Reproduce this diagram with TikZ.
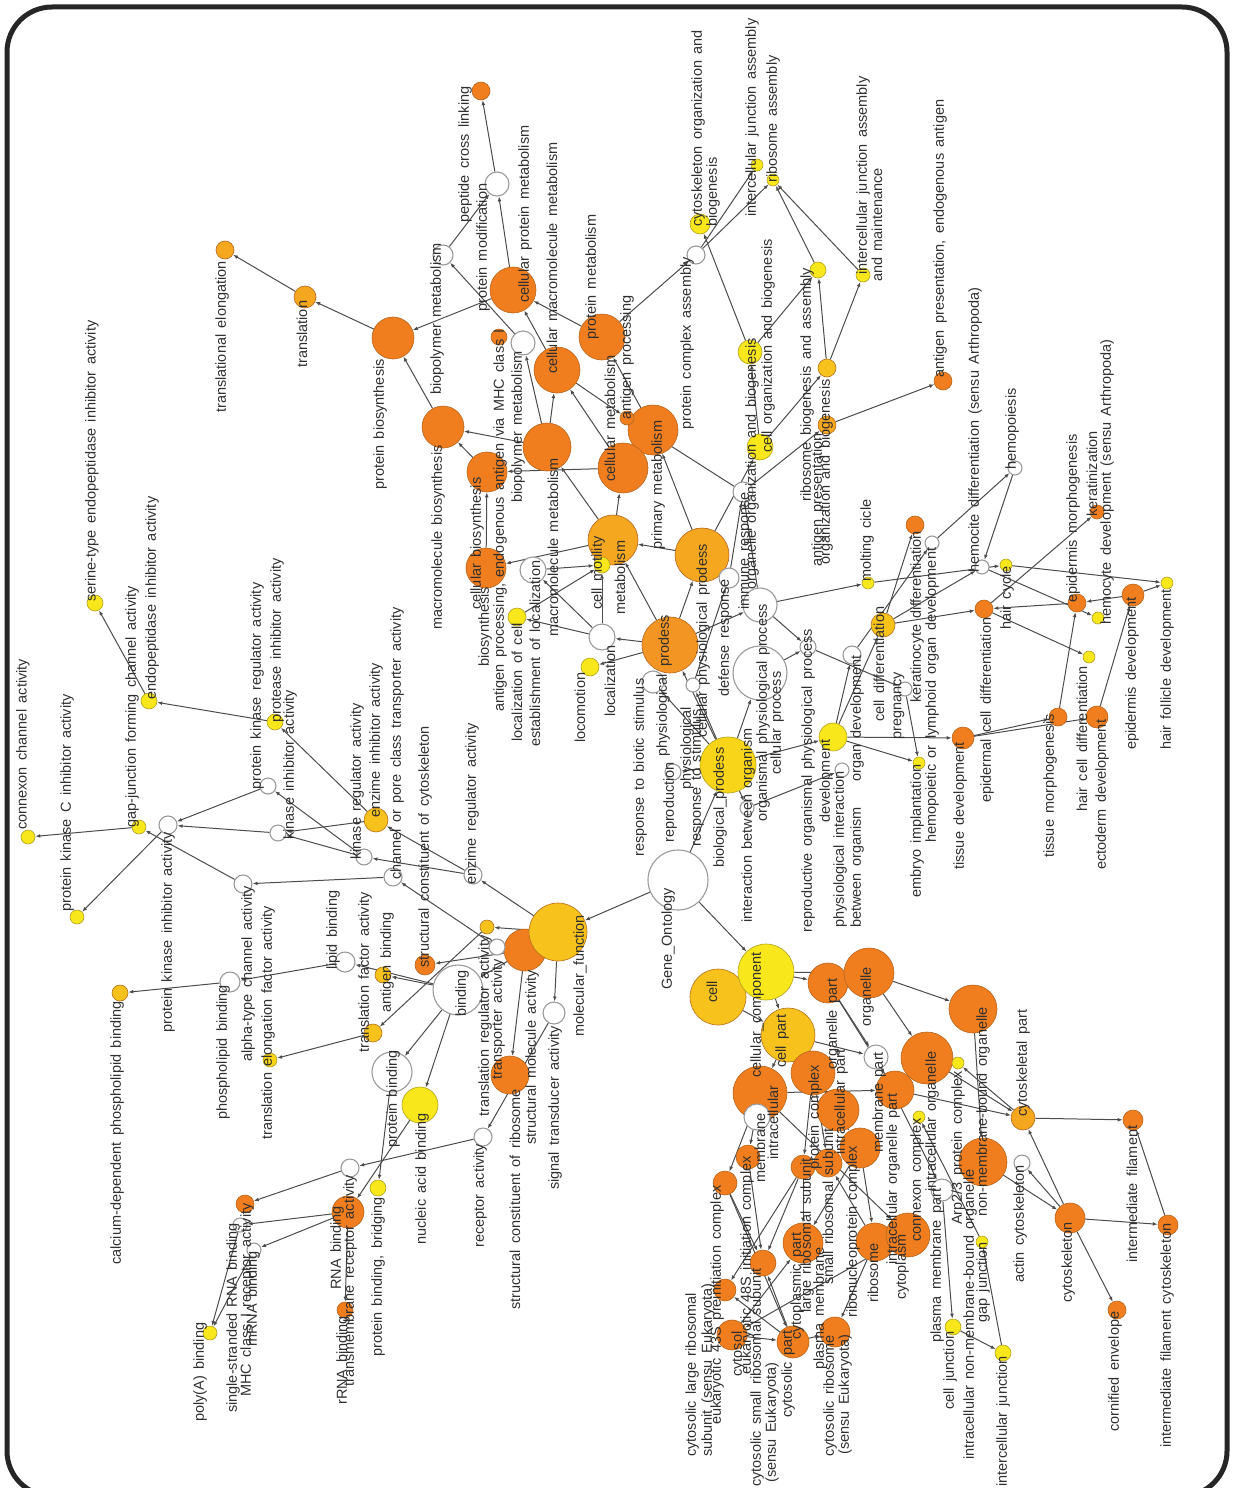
\documentclass[tikz,border=0pt]{standalone}
\usepackage{fontspec}
\setmainfont[WordSpace=1.6]{Liberation Sans}
\usetikzlibrary{arrows.meta}
\pgfdeclarelayer{bg}
\pgfsetlayers{bg,main}
\definecolor{cOR}{HTML}{F07E1E}\definecolor{cORd}{HTML}{B5651D}
\definecolor{cAM}{HTML}{F29522}\definecolor{cAM2}{HTML}{F5A71F}
\definecolor{cGD}{HTML}{F6C21B}\definecolor{cGY}{HTML}{F8D518}
\definecolor{cYL}{HTML}{F8E71B}\definecolor{cYLd}{HTML}{B0A020}
\definecolor{cWHd}{HTML}{9A9A9A}\definecolor{cED}{HTML}{4C4C4C}
\definecolor{cTX}{HTML}{303030}
\newcommand\lbfont{\fontsize{14.5}{16}\selectfont}
\tikzset{
  nd/.style={circle,inner sep=0pt,line width=0.6pt},
  OR/.style={fill=cOR,draw=cORd},
  AM/.style={fill=cAM,draw=cORd},
  AM2/.style={fill=cAM2,draw=cORd},
  GD/.style={fill=cGD,draw=cORd!80!cYLd},
  GY/.style={fill=cGY,draw=cYLd},
  YL/.style={fill=cYL,draw=cYLd},
  WH/.style={fill=white,draw=cWHd,line width=1.1pt},
  lb/.style={rotate=90,anchor=west,inner sep=0pt,text=cTX,font=\lbfont},
  ed/.style={draw=cED,line width=1pt,-{Latex[length=5pt,width=3.8pt]}},
}
\newcommand\ND[4]{\node[nd,#4,minimum size=#3pt] (#1) at (#2) {};}
\newcommand\LB[3]{\node[lb] (#1) at (#2) {#3};}
\newcommand\ED[2]{\begin{pgfonlayer}{bg}\draw[ed] (#1) -- (#2);\end{pgfonlayer}}
\begin{document}
\begin{tikzpicture}[x=1pt,y=-1pt]
\useasboundingbox (0,0) rectangle (1237,1488);
\draw[line width=5pt,rounded corners=45pt,color=black!85] (7,7) rectangle (1227,1496);
% ---------- nodes: top ----------
\ND{te}{225,250}{18}{AM2}
\ND{tl}{305,297}{22}{AM2}
\ND{pb}{393,338}{42}{OR}
\ND{pcl}{481,91}{18}{OR}
\ND{pm}{497,184}{24}{WH}
\ND{bpw}{443,255}{20}{WH}
\ND{cpm}{513,290}{46}{OR}
\ND{amhc}{499,337}{16}{OR}
\ND{wbm}{523,343}{24}{WH}
\ND{cmm}{557,370}{46}{OR}
\ND{prm}{602,337}{46}{OR}
\ND{pca}{696,255}{18}{WH}
\ND{cob}{700,224}{20}{YL}
\ND{ija}{757,165}{12}{YL}
\ND{ra}{773,180}{12}{YL}
\ND{obg}{750,352}{24}{YL}
\ND{rba}{818,270}{16}{YL}
\ND{ijam}{863,275}{14}{YL}
\ND{bgn}{827,368}{18}{GD}
\ND{apn}{827,425}{18}{AM2}
\ND{apea}{943,381}{18}{OR}
% ---------- nodes: middle ----------
\ND{mb}{443,427}{42}{OR}
\ND{ant}{487,472}{40}{OR}
\ND{cb}{486,568}{40}{OR}
\ND{bpm}{547,447}{48}{OR}
\ND{prim}{653,430}{50}{OR}
\ND{antsm}{627,418}{14}{OR}
\ND{cm}{623,468}{50}{OR}
\ND{met}{613,540}{50}{AM2}
\ND{cmot}{602,565}{16}{YL}
\ND{estw}{533,570}{26}{WH}
\ND{loc}{517,617}{18}{YL}
\ND{wcm}{602,637}{26}{WH}
\ND{locom}{590,667}{18}{YL}
\ND{pp}{702,555}{54}{AM2}
\ND{prod}{670,645}{56}{AM}
\ND{defw}{729,578}{20}{WH}
\ND{immw}{743,492}{20}{WH}
\ND{corg}{760,447}{26}{YL}
\ND{wphy}{760,605}{34}{WH}
\ND{wbig}{760,673}{54}{WH}
\ND{wrop}{808,647}{16}{WH}
\ND{rbiw}{653,682}{22}{WH}
\ND{cppw}{693,685}{14}{WH}
\ND{bp}{728,765}{56}{GY}
\ND{repw}{673,772}{16}{WH}
\ND{ibw}{747,808}{14}{WH}
\ND{GO}{678,880}{60}{WH}
% ---------- nodes: right middle ----------
\ND{molt}{868,583}{12}{YL}
\ND{kerd}{915,525}{18}{OR}
\ND{hemlw}{932,543}{14}{WH}
\ND{hemp}{1015,468}{14}{WH}
\ND{hemcd}{982,567}{14}{WH}
\ND{hairc}{1006,565}{12}{YL}
\ND{celld}{883,625}{24}{GD}
\ND{orgd}{852,655}{18}{WH}
\ND{preg}{905,689}{14}{WH}
\ND{dev}{833,737}{28}{YL}
\ND{piw}{842,770}{14}{WH}
\ND{impl}{919,763}{12}{YL}
\ND{epcd}{984,609}{18}{OR}
\ND{tisd}{963,738}{22}{OR}
\ND{epm}{1077,603}{18}{OR}
\ND{hemdev}{1098,618}{12}{YL}
\ND{kerat}{1097,512}{14}{OR}
\ND{epd}{1133,595}{22}{OR}
\ND{hfd}{1167,583}{12}{YL}
\ND{haircd}{1089,657}{12}{YL}
\ND{tism}{1058,717}{18}{OR}
\ND{ectd}{1097,717}{22}{OR}
% ---------- nodes: left ----------
\ND{ser}{95,603}{16}{YL}
\ND{endo}{149,701}{16}{YL}
\ND{prot}{275,722}{16}{YL}
\ND{conn}{28,837}{14}{YL}
\ND{gapj}{139,827}{14}{YL}
\ND{pkc}{77,917}{14}{YL}
\ND{pki}{168,825}{18}{WH}
\ND{pkr}{268,786}{16}{WH}
\ND{kin}{278,833}{16}{WH}
\ND{enzi}{376,820}{24}{GD}
\ND{kreg}{364,857}{16}{WH}
\ND{chan}{393,877}{18}{WH}
\ND{alpha}{243,884}{18}{WH}
\ND{lipid}{345,962}{20}{WH}
\ND{phos}{230,982}{20}{WH}
\ND{calc}{120,993}{16}{GD}
\ND{tef}{270,1060}{14}{GY}
\ND{tfa}{373,1033}{18}{GD}
\ND{antb}{383,975}{16}{GD}
\ND{pbind}{392,1072}{40}{WH}
\ND{scc}{425,965}{20}{OR}
\ND{nab}{420,1105}{36}{YL}
\ND{sma}{525,950}{42}{OR}
\ND{trw}{497,947}{16}{WH}
\ND{trr}{487,927}{14}{GD}
\ND{mf}{558,932}{58}{GD}
\ND{bind}{458,990}{50}{WH}
\ND{sig}{554,1013}{22}{WH}
\ND{scr}{510,1075}{38}{OR}
\ND{enzr}{473,875}{18}{WH}
\ND{rec}{483,1137}{18}{WH}
\ND{tmr}{350,1168}{18}{WH}
\ND{rna}{348,1212}{32}{OR}
\ND{pbb}{378,1188}{16}{YL}
\ND{mhc}{245,1204}{18}{OR}
\ND{ss}{240,1225}{14}{WH}
\ND{mrna}{254,1250}{14}{WH}
\ND{polya}{210,1333}{14}{YL}
\ND{rrna}{345,1310}{16}{OR}
% ---------- nodes: cellular component ----------
\ND{cell}{718,997}{56}{GD}
\ND{cc}{766,972}{56}{YL}
\ND{intra}{760,1093}{54}{OR}
\ND{memw}{757,1117}{26}{WH}
\ND{cpart}{788,1035}{54}{GD}
\ND{orgp}{828,983}{40}{OR}
\ND{org}{869,973}{50}{OR}
\ND{mbo}{973,1009}{48}{OR}
\ND{pc}{813,1073}{44}{OR}
\ND{ip}{838,1110}{42}{OR}
\ND{mpw}{876,1057}{24}{WH}
\ND{iop}{895,1090}{38}{OR}
\ND{io}{927,1058}{52}{OR}
\ND{arp}{958,1063}{12}{YL}
\ND{conc}{919,1117}{12}{YL}
\ND{cskp}{1023,1118}{24}{AM2}
\ND{rnp}{860,1148}{40}{OR}
\ND{ssu}{828,1163}{28}{OR}
\ND{o803}{803,1167}{24}{OR}
\ND{i48}{748,1157}{24}{OR}
\ND{p43}{725,1183}{24}{OR}
\ND{ribp}{803,1243}{40}{OR}
\ND{lsu}{763,1263}{26}{OR}
\ND{o725}{725,1290}{22}{OR}
\ND{cytosol}{732,1335}{30}{OR}
\ND{cytp}{793,1342}{32}{OR}
\ND{cribo}{835,1332}{30}{OR}
\ND{ribo}{875,1242}{38}{OR}
\ND{cyto}{908,1235}{44}{OR}
\ND{pmpw}{942,1190}{22}{WH}
\ND{nmbo}{983,1162}{48}{OR}
\ND{actw}{1022,1163}{16}{WH}
\ND{csk}{1070,1218}{30}{OR}
\ND{gapjn}{982,1242}{12}{YL}
\ND{celj}{953,1327}{16}{YL}
\ND{icj}{1003,1353}{16}{YL}
\ND{corn}{1117,1310}{18}{OR}
\ND{intf}{1133,1120}{20}{OR}
\ND{ifc}{1168,1225}{20}{OR}
% ---------- edges ----------
\ED{pb}{tl}\ED{tl}{te}\ED{mb}{pb}\ED{cpm}{pb}\ED{cpm}{pm}\ED{bpw}{pm}\ED{pm}{pcl}
\ED{wbm}{bpw}\ED{bpm}{wbm}\ED{bpm}{mb}\ED{ant}{mb}\ED{cb}{ant}\ED{cm}{ant}
\ED{bpm}{cmm}\ED{cm}{cmm}\ED{cmm}{cpm}\ED{prm}{cpm}\ED{prim}{prm}\ED{prm}{pca}
\ED{pca}{ija}\ED{pca}{ra}\ED{obg}{cob}\ED{obg}{rba}\ED{rba}{ra}\ED{bgn}{rba}
\ED{bgn}{ijam}\ED{ijam}{ra}\ED{corg}{bgn}\ED{corg}{obg}\ED{apn}{apea}\ED{immw}{apn}
\ED{immw}{antsm}\ED{cmm}{antsm}
\ED{met}{cb}\ED{met}{bpm}\ED{met}{cm}\ED{prod}{met}\ED{pp}{met}\ED{pp}{prim}\ED{pp}{corg}
\ED{prod}{pp}\ED{prod}{wcm}\ED{prod}{locom}\ED{prod}{wphy}\ED{wcm}{loc}\ED{wcm}{estw}
\ED{wcm}{cmot}\ED{estw}{cmot}\ED{loc}{cmot}
\ED{wphy}{immw}\ED{defw}{immw}\ED{cppw}{defw}\ED{wphy}{molt}\ED{wphy}{wrop}\ED{wbig}{wrop}
\ED{bp}{prod}\ED{bp}{wbig}\ED{bp}{repw}\ED{bp}{ibw}\ED{bp}{dev}\ED{bp}{cppw}\ED{bp}{rbiw}
\ED{ibw}{piw}\ED{wrop}{preg}\ED{preg}{impl}\ED{dev}{impl}\ED{dev}{celld}\ED{dev}{orgd}
\ED{dev}{tisd}\ED{orgd}{hemlw}\ED{celld}{kerd}\ED{celld}{epcd}\ED{celld}{hemcd}
\ED{hemlw}{hemp}\ED{hemp}{hemcd}\ED{molt}{hairc}\ED{hemcd}{hemdev}\ED{hairc}{hfd}
\ED{epd}{hfd}\ED{epd}{epm}\ED{epm}{epcd}\ED{epcd}{kerat}\ED{epcd}{haircd}
\ED{tisd}{tism}\ED{tisd}{ectd}\ED{tism}{epm}\ED{ectd}{epd}
\ED{GO}{bp}\ED{GO}{mf}\ED{GO}{cc}
\ED{mf}{enzr}\ED{mf}{trr}\ED{mf}{sig}\ED{mf}{bind}\ED{mf}{trw}\ED{sma}{scc}\ED{sma}{scr}
\ED{trw}{chan}\ED{enzr}{enzi}\ED{enzr}{kreg}\ED{enzi}{kin}\ED{enzi}{prot}\ED{kreg}{kin}
\ED{kreg}{pkr}\ED{pkr}{pki}\ED{kin}{pki}\ED{pki}{pkc}\ED{alpha}{gapj}\ED{gapj}{conn}
\ED{chan}{alpha}\ED{prot}{endo}\ED{endo}{ser}\ED{bind}{lipid}\ED{lipid}{phos}\ED{phos}{calc}
\ED{bind}{antb}\ED{trr}{tfa}\ED{tfa}{tef}\ED{bind}{pbind}\ED{bind}{nab}\ED{pbind}{pbb}
\ED{nab}{rna}\ED{sig}{rec}\ED{rec}{tmr}\ED{tmr}{mhc}\ED{rna}{ss}\ED{rna}{mrna}\ED{rna}{rrna}
\ED{ss}{polya}\ED{mrna}{polya}
\ED{cc}{cpart}\ED{cell}{cpart}\ED{cc}{orgp}\ED{cc}{org}\ED{org}{mbo}\ED{org}{io}
\ED{orgp}{mpw}\ED{cpart}{mpw}\ED{cpart}{intra}\ED{cpart}{pc}\ED{cpart}{ip}\ED{orgp}{iop}
\ED{intra}{iop}\ED{io}{iop}\ED{io}{cskp}\ED{iop}{cskp}\ED{cskp}{arp}\ED{mbo}{nmbo}
\ED{nmbo}{csk}\ED{csk}{cskp}\ED{csk}{actw}\ED{csk}{ifc}\ED{csk}{corn}\ED{cskp}{intf}
\ED{ifc}{intf}\ED{mpw}{pmpw}\ED{pmpw}{celj}\ED{celj}{icj}\ED{icj}{gapjn}\ED{gapjn}{conc}
\ED{intra}{cyto}\ED{pc}{rnp}\ED{rnp}{ribo}\ED{ribo}{cribo}\ED{pc}{ssu}\ED{pc}{o803}
\ED{intra}{i48}\ED{intra}{p43}\ED{o803}{ribp}\ED{o803}{lsu}\ED{o803}{o725}\ED{p43}{lsu}
\ED{p43}{cytp}\ED{cytp}{lsu}\ED{cytosol}{cytp}\ED{cytp}{o725}\ED{cytosol}{ribp}
\ED{cytp}{cribo}\ED{rnp}{ribp}\ED{ribo}{ssu}\ED{i48}{lsu}\ED{cyto}{cytosol}
% ---------- labels ----------
\LB{t1}{222,413}{translational elongation}
\LB{t2}{302,368}{translation}
\LB{t3}{380,490}{protein biosynthesis}
\LB{t4}{465,223}{peptide cross linking}
\LB{t5}{483,312}{protein modification}
\LB{t6}{437,395}{biopolymer metabolism}
\LB{t7}{525,303}{cellular protein metabolism}
\LB{t8}{552,374}{cellular macromolecule metabolism}
\LB{t9}{592,340}{protein metabolism}
\LB{t10}{500,712}{antigen processing, endogenous antigen via MHC class I}
\LB{t11}{518,503}{biopolymer metabolism}
\LB{t12}{610,482}{cellular metabolism}
\LB{t13}{658,550}{primary metabolism}
\LB{t14}{627,420}{antigen processing}
\LB{t15}{687,430}{protein complex assembly}
\LB{t16}{698,227}{cytoskeleton organization and}
\LB{t17}{713,227}{biogenesis}
\LB{t18}{752,217}{intercellular junction assembly}
\LB{t19}{773,183}{ribosome assembly}
\LB{t20}{863,275}{intercellular junction assembly}
\LB{t21}{877,282}{and maintenance}
\LB{t22}{768,453}{cell organization and biogenesis}
\LB{t23}{752,590}{organelle organization and biogenesis}
\LB{t24}{807,502}{ribosome biogenesis and assembly}
\LB{t25}{818,567}{antigen presentation}
\LB{t26}{826,565}{organization and biogenesis}
\LB{t27}{940,378}{antigen presentation, endogenous antigen}
\LB{t28}{438,630}{macromolecule biosynthesis}
\LB{t29}{477,610}{cellular biosynthesis}
\LB{t30}{485,667}{biosynthesis}
\LB{t31}{553,637}{macromolecule metabolism}
\LB{t32}{517,742}{localization of cell}
\LB{t33}{535,747}{establishment of localization}
\LB{t34}{598,610}{cell motility}
\LB{t35}{620,615}{metabolism}
\LB{t36}{610,717}{localization}
\LB{t37}{580,743}{locomotion}
\LB{t38}{665,667}{prodess}
\LB{t39}{703,738}{cellular physiological prodess}
\LB{t40}{725,697}{defense response}
\LB{t41}{745,610}{immune response}
\LB{t42}{640,857}{response to biotic stimulus}
\LB{t43}{663,757}{physiological}
\LB{t44}{687,790}{physiological}
\LB{t45}{697,847}{response to stimulus}
\LB{t46}{670,843}{reproduction}
\LB{t47}{720,868}{biological\_prodess}
\LB{t48}{748,923}{interaction between organism}
\LB{t49}{763,822}{organismal physiological process}
\LB{t50}{777,775}{cellular process}
\LB{t51}{808,933}{reproductive organismal physiological process}
\LB{t52}{826,823}{development}
\LB{t53}{840,928}{physiological interaction}
\LB{t54}{857,928}{between organism}
\LB{t55}{857,782}{organ development}
\LB{t56}{867,582}{molting cicle}
\LB{t57}{917,703}{keratinocyte differentiation}
\LB{t58}{932,843}{hemopoietic or lymphoid organ development}
\LB{t59}{917,898}{embryo implantation}
\LB{t60}{899,740}{pregnancy}
\LB{t61}{879,722}{cell differentiation}
\LB{t62}{1012,470}{hemopoiesis}
\LB{t63}{975,573}{hemocite differentiation (sensu Arthropoda)}
\LB{t64}{1007,630}{hair cycle}
\LB{t65}{960,870}{tissue development}
\LB{t66}{987,803}{epidermal cell differentiation}
\LB{t67}{1073,603}{epidermis morphogenesis}
\LB{t68}{1092,517}{keratinization}
\LB{t69}{1107,625}{hemocyte development (sensu Arthropoda)}
\LB{t70}{1132,750}{epidermis development}
\LB{t71}{1167,750}{hair follicle development}
\LB{t72}{1050,858}{tissue morphogenesis}
\LB{t73}{1082,812}{hair cell differentiation}
\LB{t74}{1102,870}{ectoderm development}
\LB{t75}{92,602}{serine-type endopeptidase inhibitor activity}
\LB{t76}{152,700}{endopeptidase inhibitor activity}
\LB{t77}{132,828}{gap-junction forming channel activity}
\LB{t78}{257,790}{protein kinase regulator activity}
\LB{t79}{277,723}{protease inhibitor activity}
\LB{t80}{290,840}{kinase inhibitor activity}
\LB{t81}{23,830}{connexon channel activity}
\LB{t82}{67,912}{protein kinase C inhibitor activity}
\LB{t83}{168,1033}{protein kinase inhibitor activity}
\LB{t84}{357,860}{kinase regulator activity}
\LB{t85}{376,818}{enzime inhibitor activity}
\LB{t86}{397,880}{channel or pore class transporter activity}
\LB{t87}{425,968}{structural constituent of cytoskeleton}
\LB{t88}{472,885}{enzime regulator activity}
\LB{t89}{248,1062}{alpha-type channel activity}
\LB{t90}{333,970}{lipid binding}
\LB{t91}{223,1120}{phospholipid binding}
\LB{t92}{117,1265}{calcium-dependent phospholipid binding}
\LB{t93}{268,1140}{translation elongation factor activity}
\LB{t94}{365,1053}{translation factor activity}
\LB{t95}{387,1013}{antigen binding}
\LB{t96}{393,1148}{protein binding}
\LB{t97}{462,1017}{binding}
\LB{t98}{422,1245}{nucleic acid binding}
\LB{t99}{485,1117}{translation regulator activity}
\LB{t100}{498,1080}{transporter activity}
\LB{t101}{532,1145}{structural molecule activity}
\LB{t102}{515,1310}{structural constituent of ribosome}
\LB{t103}{555,1190}{signal transducer activity}
\LB{t104}{580,1037}{molecular\_function}
\LB{t105}{668,990}{Gene\_Ontology}
\LB{t106}{480,1248}{receptor activity}
\LB{t107}{350,1387}{transmembrane receptor activity}
\LB{t108}{337,1290}{RNA binding}
\LB{t109}{378,1357}{protein binding, bridging}
\LB{t110}{247,1397}{MHC class I receptor activity}
\LB{t111}{233,1413}{single-stranded RNA binding}
\LB{t112}{253,1347}{mRNA binding}
\LB{t113}{200,1422}{poly(A) binding}
\LB{t114}{343,1405}{rRNA binding}
\LB{t115}{712,1003}{cell}
\LB{t116}{757,1078}{cellular\_component}
\LB{t117}{782,1068}{cell part}
\LB{t118}{833,1070}{organelle part}
\LB{t119}{867,1027}{organelle}
\LB{t120}{983,1217}{non-membrane-bound organelle}
\LB{t121}{970,1460}{intracellular non-membrane-bound organelle}
\LB{t122}{958,1225}{Arp2/3 protein complex}
\LB{t123}{1023,1117}{cytoskeletal part}
\LB{t124}{932,1192}{intracellular organelle}
\LB{t125}{879,1153}{membrane part}
\LB{t126}{893,1265}{intracellular organelle part}
\LB{t127}{841,1155}{intracellular part}
\LB{t128}{853,1318}{ribonucleoprotein complex}
\LB{t129}{815,1170}{protein complex}
\LB{t130}{760,1183}{membrane}
\LB{t131}{773,1160}{intracellular}
\LB{t132}{873,1303}{ribosome}
\LB{t133}{902,1300}{cytoplasm}
\LB{t134}{917,1242}{connexon complex}
\LB{t135}{937,1343}{plasma membrane part}
\LB{t136}{950,1410}{cell junction}
\LB{t137}{983,1323}{gap junction}
\LB{t138}{1003,1487}{intercellular junction}
\LB{t139}{1020,1283}{actin cytoskeleton}
\LB{t140}{1068,1303}{cytoskeleton}
\LB{t141}{1115,1432}{cornified envelope}
\LB{t142}{1132,1263}{intermediate filament}
\LB{t143}{1167,1448}{intermediate filament cytoskeleton}
\LB{t144}{830,1457}{cytosolic ribosome}
\LB{t145}{845,1455}{(sensu Eukaryota)}
\LB{t146}{692,1457}{cytosolic large ribosomal}
\LB{t147}{708,1457}{subunit (sensu Eukaryota)}
\LB{t148}{717,1425}{eukaryotic 43S preinitiation complex}
\LB{t149}{738,1377}{cytosol}
\LB{t150}{747,1375}{eukaryotic 48S initiation complex}
\LB{t151}{757,1487}{cytosolic small ribosomal subunit}
\LB{t152}{772,1483}{(sensu Eukaryota)}
\LB{t153}{788,1418}{cytosolic part}
\LB{t154}{797,1340}{cytoplasmic part}
\LB{t155}{807,1313}{large ribosomal subunit}
\LB{t156}{820,1370}{plasma membrane}
\LB{t157}{828,1285}{small ribosomal subunit}
\end{tikzpicture}
\end{document}
